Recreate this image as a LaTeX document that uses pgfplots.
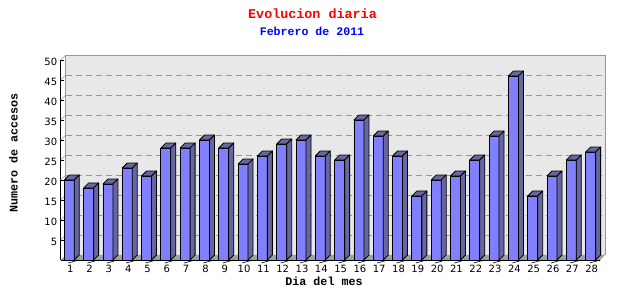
\documentclass[border=0pt]{standalone}
\usepackage{pgfplots}
\pgfplotsset{compat=1.18}
\usepackage{pgfplotstable}
\usepackage{fontspec}
\setmainfont{Liberation Mono}
\newfontfamily\tickfont{DejaVu Sans}
\definecolor{barfront}{RGB}{128,128,255}
\definecolor{barside}{RGB}{102,102,160}
\definecolor{panel}{RGB}{232,232,232}
\definecolor{floorgray}{RGB}{160,160,160}
\definecolor{gridgray}{RGB}{150,150,150}
\pgfplotstableread{
x y
1 20
2 18
3 19
4 23
5 21
6 28
7 28
8 30
9 28
10 24
11 26
12 29
13 30
14 26
15 25
16 35
17 31
18 26
19 16
20 20
21 21
22 25
23 31
24 46
25 16
26 21
27 25
28 27
}\visits
\begin{document}
\begin{tikzpicture}
\useasboundingbox (0,0) rectangle (640bp,300bp);
\begin{axis}[
  at={(60.7bp,40bp)}, anchor=south west,
  scale only axis, width=539.3bp, height=200bp,
  xmin=0.555, xmax=28.485, ymin=0, ymax=50,
  clip=false,
  axis x line=bottom, axis y line=left,
  axis line style={-, black, line width=0.8bp},
  xtick={1,...,28}, xtick style={draw=none},
  ytick={5,10,...,50},
  ytick style={black, line width=0.6bp},
  tick align=inside, major tick length=3bp,
  /pgf/number format/assume math mode=true,
  ticklabel style={font=\tickfont\fontsize{10bp}{12bp}\selectfont},
  xticklabel style={yshift=-1.5bp, xshift=1bp},
  yticklabel style={yshift=-2bp},
]
% back wall
\fill[panel] ([shift={(5bp,5bp)}]axis cs:0.555,0) rectangle ([shift={(5bp,5bp)}]axis cs:28.485,50);
\draw[gridgray, line width=0.8bp] ([shift={(5bp,5bp)}]axis cs:0.555,0) -- ([shift={(5bp,5bp)}]axis cs:0.555,50) -- ([shift={(5bp,5bp)}]axis cs:28.485,50) -- ([shift={(5bp,5bp)}]axis cs:28.485,0);
% floor
\fill[floorgray] (axis cs:0.555,0) -- (axis cs:28.485,0) -- ([shift={(5bp,5bp)}]axis cs:28.485,0) -- ([shift={(5bp,5bp)}]axis cs:0.555,0) -- cycle;
% grid
\pgfplotsinvokeforeach{5,10,...,45}{
  \draw[gridgray, line width=0.8bp, dash pattern=on 6bp off 4bp] ([shift={(5bp,5bp)}]axis cs:0.555,#1) -- ([shift={(5bp,5bp)}]axis cs:28.485,#1);
}
\pgfplotsinvokeforeach{5,10,...,50}{
  \draw[gridgray, line width=0.6bp] (axis cs:0.555,#1) -- ([shift={(5bp,5bp)}]axis cs:0.555,#1);
}
% x tick marks between bars
\pgfplotsinvokeforeach{1,...,28}{
  \draw[black, line width=0.6bp] (axis cs:#1.5,0) -- ++(0,-3bp);
}
% front faces
\addplot[ybar, bar width=10bp, fill=barfront, draw=black, line width=0.8bp] table[x=x,y=y]{\visits};
% top and side faces
\addplot[scatter, only marks, mark=*, mark size=0.1pt,
  mark options={draw=none,fill=none},
  visualization depends on={rawy \as \rawy},
  scatter/@pre marker code/.code={%
    \pgfmathsetmacro\h{4*\rawy}%
    \filldraw[fill=barside, draw=black, line width=0.8bp, line join=round]
      (-5bp,0bp) -- (5bp,0bp) -- (10bp,5bp) -- (0bp,5bp) -- cycle;
    \filldraw[fill=barside, draw=black, line width=0.8bp, line join=round]
      (5bp,0bp) -- (10bp,5bp) -- (10bp,{5bp-\h bp}) -- (5bp,{-\h bp}) -- cycle;
    \begin{scope}
  },
  scatter/@post marker code/.code={\end{scope}},
] table[x=x,y=y]{\visits};
\end{axis}
\node[anchor=base, text=red, font=\bfseries\fontsize{13.4bp}{15bp}\selectfont] at (312.5bp,281bp) {Evolucion diaria};
\node[anchor=base, text=blue, font=\bfseries\fontsize{11.6bp}{13bp}\selectfont] at (312bp,264bp) {Febrero de 2011};
\node[anchor=base, font=\bfseries\fontsize{11.7bp}{13bp}\selectfont] at (324bp,14.3bp) {Dia del mes};
\node[anchor=base, rotate=90, font=\bfseries\fontsize{11.7bp}{13bp}\selectfont] at (17.5bp,147bp) {Numero de accesos};
\end{tikzpicture}
\end{document}
